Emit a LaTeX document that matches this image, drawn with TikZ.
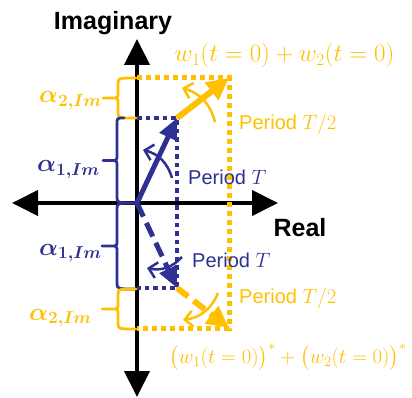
\documentclass[tikz,border=0pt]{standalone}
\usepackage{fontspec}
\setmainfont{Liberation Sans}
\usepackage{amsmath,bm}
\usetikzlibrary{arrows.meta}
\definecolor{navy}{RGB}{46,49,146}
\definecolor{gold}{RGB}{255,192,0}
% #1 colour, #2 top y, #3 bottom y, #4 end x (top), #5 straight x, #6 tip x, #7 end x (bottom)
\newcommand{\mybrace}[7]{%
  \pgfmathsetmacro{\brmid}{(#2+#3)/2}%
  \draw[#1, line width=2.8pt, line cap=round, line join=round]
    (#4,#2) .. controls (#5,#2) .. (#5,#2+6) -- (#5,\brmid-6)
    .. controls (#5,\brmid) .. (#5-6,\brmid) -- (#6,\brmid)
    (#6,\brmid) -- (#5-6,\brmid) .. controls (#5,\brmid) .. (#5,\brmid+6)
    -- (#5,#3-6) .. controls (#5,#3) .. (#7,#3);}
\begin{document}
\begin{tikzpicture}[x=1pt,y=-1pt,
  axis/.style={line width=4pt, {Triangle[length=26pt,width=25pt]}-{Triangle[length=26pt,width=25pt]}},
  bluevec/.style={navy, line width=5pt, -{Triangle[length=21pt,width=18pt]}},
  goldvec/.style={gold, line width=6pt, -{Triangle[length=22pt,width=21pt]}},
  bluedot/.style={navy, line width=4.5pt, dash pattern=on 4.5pt off 4pt},
  golddot/.style={gold, line width=5pt, dash pattern=on 5pt off 4pt},
  bluearc/.style={navy, line width=2.5pt, -{Straight Barb[length=8pt,width=16pt]}},
  goldarc/.style={gold, line width=2.5pt, -{Straight Barb[length=8pt,width=16pt]}},
  lbl/.style={inner sep=0pt},
  alab/.style={inner sep=0pt, anchor=base east, font=\fontsize{25}{30}\selectfont},
  per/.style={inner sep=0pt, anchor=base west, font=\fontsize{20}{24}\selectfont},
]
\useasboundingbox (0,0) rectangle (412,398);
% key points
\coordinate (O) at (137,203);
\coordinate (L) at (12,203);
\coordinate (R) at (278,203);
\coordinate (T) at (137,39);
\coordinate (B) at (137,397);
\coordinate (P1) at (177,118);
\coordinate (P2) at (229,78);
\coordinate (Q1) at (177,288);
\coordinate (Q2) at (229,328);
\coordinate (P1y) at (137,118);
\coordinate (P2y) at (137,78);
\coordinate (Q1y) at (137,288);
\coordinate (Q2y) at (137,328);
% axes
\draw[axis] (L) -- (R);
\draw[axis] (B) -- (T);
% dotted projections
\draw[golddot] (P2y) -- (P2) -- (Q2) -- (Q2y);
\draw[bluedot] (P1y) -- (P1) -- (Q1) -- (Q1y);
% braces
\mybrace{gold}{78}{118}{136}{118}{103}{136}
\mybrace{navy}{118}{203}{124}{117}{103}{136}
\mybrace{navy}{203}{289}{136}{117}{102}{136}
\mybrace{gold}{289}{329}{136}{118}{102}{136}
% vectors
\draw[bluevec] (O) -- (P1);
\draw[goldvec] (P1) -- (P2);
\draw[bluevec, dash pattern=on 15pt off 7pt] (O) -- (Q1);
\draw[goldvec, dash pattern=on 14pt off 7pt] (Q1) -- (Q2);
% rotation arcs
\coordinate (ba1) at (172,178); \coordinate (ba2) at (143,150);
\coordinate (ga1) at (215,122); \coordinate (ga2) at (182,88);
\coordinate (bb1) at (182,257); \coordinate (bb2) at (147,268);
\coordinate (gb1) at (218,293); \coordinate (gb2) at (183,320);
\draw[bluearc] (ba1) to[bend right=30] (ba2);
\draw[goldarc] (ga1) to[bend right=30] (ga2);
\draw[bluearc] (bb1) to[bend left=30] (bb2);
\draw[goldarc] (gb1) to[bend left=30] (gb2);
% labels
\node[lbl, anchor=base, font=\fontsize{25}{30}\selectfont\bfseries] (imag) at (113,30) {Imaginary};
\node[lbl, anchor=base, font=\fontsize{25}{30}\selectfont\bfseries] (real) at (300,236) {Real};
\node[alab, gold] (a2u) at (102,103) {$\bm{\alpha_{2,Im}}$};
\node[alab, navy] (a1u) at (100,172) {$\bm{\alpha_{1,Im}}$};
\node[alab, navy] (a1l) at (102,255) {$\bm{\alpha_{1,Im}}$};
\node[alab, gold] (a2l) at (92,320) {$\bm{\alpha_{2,Im}}$};
\node[per, navy] (pTu) at (188,185) {Period $T$};
\node[per, navy] (pTl) at (192,267) {Period $T$};
\node[per, gold] (pT2u) at (239,130) {Period $T/2$};
\node[per, gold] (pT2l) at (239,303) {Period $T/2$};
\node[lbl, gold, anchor=base, font=\fontsize{24}{28}\selectfont] (wsum) at (284.5,62) {$w_1(t=0)+w_2(t=0)$};
\node[lbl, gold, anchor=base east, font=\fontsize{22}{26}\selectfont] (wconj) at (407,363) {$\big(w_1(t=0)\big)^{*}+\big(w_2(t=0)\big)^{*}$};
\end{tikzpicture}
\end{document}
